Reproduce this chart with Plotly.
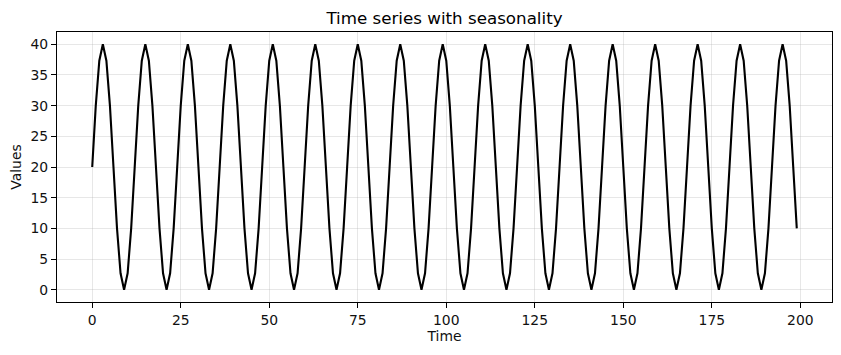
import plotly.graph_objects as go

# Values (period of 12 samples, 200 points)
time = list(range(200))
values = [
    20, 30, 37.32, 40, 37.32, 30, 20, 10, 2.68, 0, 2.68, 10,
    20, 30, 37.32, 40, 37.32, 30, 20, 10, 2.68, 0, 2.68, 10,
    20, 30, 37.32, 40, 37.32, 30, 20, 10, 2.68, 0, 2.68, 10,
    20, 30, 37.32, 40, 37.32, 30, 20, 10, 2.68, 0, 2.68, 10,
    20, 30, 37.32, 40, 37.32, 30, 20, 10, 2.68, 0, 2.68, 10,
    20, 30, 37.32, 40, 37.32, 30, 20, 10, 2.68, 0, 2.68, 10,
    20, 30, 37.32, 40, 37.32, 30, 20, 10, 2.68, 0, 2.68, 10,
    20, 30, 37.32, 40, 37.32, 30, 20, 10, 2.68, 0, 2.68, 10,
    20, 30, 37.32, 40, 37.32, 30, 20, 10, 2.68, 0, 2.68, 10,
    20, 30, 37.32, 40, 37.32, 30, 20, 10, 2.68, 0, 2.68, 10,
    20, 30, 37.32, 40, 37.32, 30, 20, 10, 2.68, 0, 2.68, 10,
    20, 30, 37.32, 40, 37.32, 30, 20, 10, 2.68, 0, 2.68, 10,
    20, 30, 37.32, 40, 37.32, 30, 20, 10, 2.68, 0, 2.68, 10,
    20, 30, 37.32, 40, 37.32, 30, 20, 10, 2.68, 0, 2.68, 10,
    20, 30, 37.32, 40, 37.32, 30, 20, 10, 2.68, 0, 2.68, 10,
    20, 30, 37.32, 40, 37.32, 30, 20, 10, 2.68, 0, 2.68, 10,
    20, 30, 37.32, 40, 37.32, 30, 20, 10,
]
x_ticks = [0, 25, 50, 75, 100, 125, 150, 175, 200]
y_ticks = [0, 5, 10, 15, 20, 25, 30, 35, 40]

FONT = "DejaVu Sans"
TXT = "#111"
fig = go.Figure()
fig.add_trace(go.Scatter(x=time, y=values, mode="lines",
                         line=dict(color="black", width=2.1), showlegend=False))

axis_common = dict(
    showline=True, mirror=True, linecolor="black", linewidth=1.1,
    ticks="outside", ticklen=5, tickwidth=1.1, tickcolor="black",
    showgrid=True, gridcolor="rgba(176,176,176,0.3)", gridwidth=1.1,
    zeroline=False, tickfont=dict(family=FONT, size=13.9, color=TXT),
)
fig.update_xaxes(range=[-9.95, 208.95], tickvals=x_ticks,
                 title=dict(text="Time", font=dict(family=FONT, size=13.9, color=TXT), standoff=4),
                 **axis_common)
fig.update_yaxes(range=[-2, 42], tickvals=y_ticks,
                 title=dict(text="Values", font=dict(family=FONT, size=13.9, color=TXT), standoff=5),
                 **axis_common)
fig.update_layout(
    width=841, height=355,
    margin=dict(l=57, r=9, t=32, b=53),
    paper_bgcolor="white", plot_bgcolor="white",
    title=dict(text="Time series with seasonality", x=0.5, xanchor="center",
               xref="paper", y=1 - 18 / 355, yanchor="middle",
               font=dict(family=FONT, size=16.7, color="black")),
)
fig.write_html("out.html")
